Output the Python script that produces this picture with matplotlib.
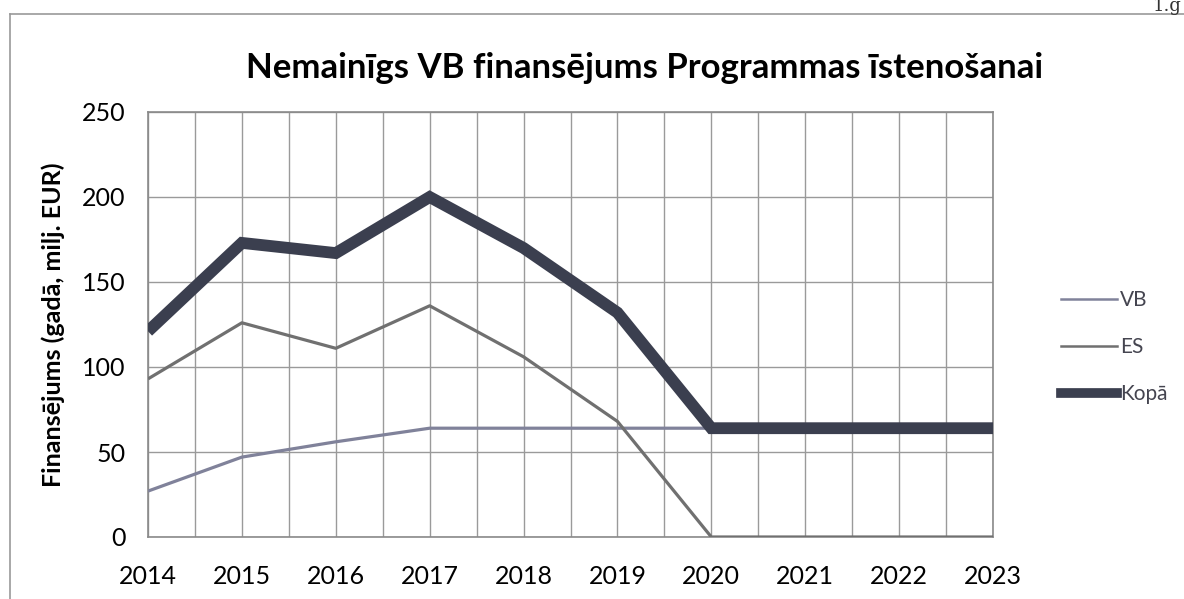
import matplotlib.pyplot as plt
from matplotlib.ticker import MultipleLocator
from matplotlib.lines import Line2D

plt.rcParams['font.family'] = ['Lato', 'DejaVu Sans']

years = [2014, 2015, 2016, 2017, 2018, 2019, 2020, 2021, 2022, 2023]
vb = [27, 47, 56, 64, 64, 64, 64, 64, 64, 64]
es = [93, 126, 111, 136, 106, 68, 0, 0, 0, 0]
kopa = [121, 173, 167, 200, 170, 132, 64, 64, 64, 64]

title = 'Nemainīgs VB finansējums Programmas īstenošanai'
ylabel = 'Finansējums (gadā, milj. EUR)'

fig = plt.figure(figsize=(11.84, 5.99), dpi=100)
ax = fig.add_axes([148 / 1184, 1 - 537 / 599, (993 - 148) / 1184, (537 - 112) / 599])

grid_c = '#9a9a9a'
ax.plot(years, vb, color='#80829a', lw=2.3, zorder=3, solid_capstyle='butt')
ax.plot(years, es, color='#707070', lw=2.3, zorder=3, solid_capstyle='butt')
ax.plot(years, kopa, color='#3b3f4f', lw=8.5, zorder=4, solid_capstyle='butt',
        solid_joinstyle='miter')

ax.set_xlim(2014, 2023)
ax.set_ylim(0, 250)
ax.xaxis.set_major_locator(MultipleLocator(1))
ax.xaxis.set_minor_locator(MultipleLocator(0.5))
ax.yaxis.set_major_locator(MultipleLocator(50))
ax.grid(which='both', axis='x', color=grid_c, lw=1)
ax.grid(which='major', axis='y', color=grid_c, lw=1)
ax.tick_params(which='both', length=0, labelsize=18, colors='black')
ax.tick_params(axis='x', pad=20)
ax.tick_params(axis='y', pad=16)
for s in ax.spines.values():
    s.set_color('#8a8a8a')
    s.set_linewidth(1.2)

ax.set_ylabel(ylabel, fontsize=18, fontweight='bold', labelpad=12)
fig.text(645 / 1184, 1 - 68 / 599, title, fontsize=25, fontweight='bold',
         ha='center', va='center')

handles = [Line2D([], [], color='#80829a', lw=1.8),
           Line2D([], [], color='#707070', lw=1.8),
           Line2D([], [], color='#3b3f4f', lw=7)]
fig.legend(handles, ['VB', 'ES', 'Kopā'], loc='center left',
           bbox_to_anchor=(1042 / 1184, 1 - 347 / 599), frameon=False,
           fontsize=15, handlelength=2.7, handletextpad=0.15, labelspacing=1.3,
           labelcolor='#454550')

# page frame of the scanned figure
fig.add_artist(Line2D([10 / 1184, 10 / 1184], [0, 1 - 14 / 599],
                      transform=fig.transFigure, color='#999999', lw=1.2))
fig.add_artist(Line2D([10 / 1184, 1], [1 - 14 / 599, 1 - 14 / 599],
                      transform=fig.transFigure, color='#999999', lw=1.2))
fig.text(0.998, 1 - 11 / 599, '1.g', fontsize=13, family='serif', ha='right',
         va='baseline', color='#333333')

fig.savefig('out.png', dpi=100)
